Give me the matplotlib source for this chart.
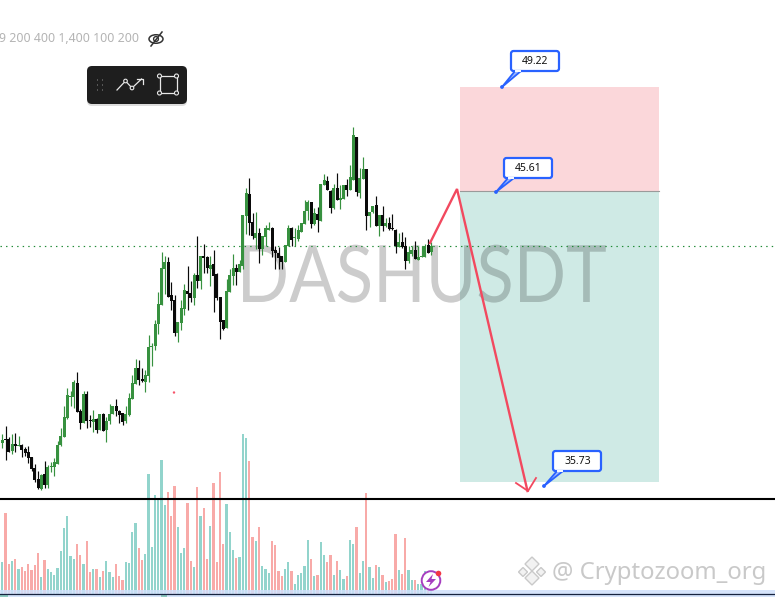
import numpy as np
import matplotlib
matplotlib.use("Agg")
import matplotlib.pyplot as plt
import matplotlib.patheffects as pe
from matplotlib.transforms import Affine2D
from matplotlib.patches import FancyBboxPatch, Rectangle, Polygon, Circle, Ellipse

# candle rows, in chart-pane position units: colour, body top, body bottom, wick top, wick bottom
C = """g 440 443 434 448
k 439 440 426 460
k 439 452 437 452
g 444 451 434 454
k 444 446 433 452
g 445 446 436 446
k 445 450 444 457
k 449 453 447 456
k 452 458 446 463
k 457 469 457 471
k 468 480 464 482
k 479 488 471 489
g 475 489 474 490
k 474 485 461 488
g 467 485 465 488
g 466 467 462 472
g 462 467 458 476
g 445 464 441 464
g 436 445 428 446
g 417 437 406 437
g 395 418 388 419
g 396 397 391 406
g 382 397 380 408
k 383 412 372 412
k 411 423 409 429
g 394 423 391 423
k 394 421 391 428
k 420 421 415 427
g 419 422 410 432
k 419 430 418 433
g 414 430 414 430
k 414 431 413 431
g 421 430 417 442
g 414 421 404 424
g 406 414 406 414
k 406 411 399 416
k 411 415 410 423
k 413 422 413 425
g 414 421 406 423
g 398 415 393 416
g 383 399 375 399
g 368 384 359 384
k 368 380 360 385
k 379 381 368 382
g 375 382 370 392
g 347 376 335 382
g 346 347 343 366
g 324 346 320 350
g 304 324 292 334
g 268 305 252 305
g 262 269 256 294
k 262 297 257 297
k 295 301 282 310
k 300 333 295 336
g 322 333 322 342
g 308 323 300 330
g 290 309 284 315
k 291 294 266 310
k 293 298 281 302
g 275 298 273 305
k 275 281 236 288
g 256 281 256 289
k 256 258 244 273
k 257 268 256 273
g 265 269 256 286
k 264 276 250 312
k 274 298 273 300
k 297 322 297 339
k 320 329 320 330
g 291 328 279 328
g 275 292 269 292
g 268 276 254 285
k 268 272 264 285
g 264 272 260 272
g 215 266 215 269
g 193 216 188 234
k 194 223 178 235
k 222 236 213 239
g 233 238 212 249
k 233 249 228 263
g 236 249 236 255
g 228 237 225 246
g 228 230 222 230
k 228 251 227 257
k 250 253 246 269
k 253 258 247 269
k 256 262 256 269
g 245 262 245 262
g 228 246 225 246
k 228 240 227 246
g 237 238 228 246
g 230 239 225 241
g 223 232 223 232
g 211 224 200 224
g 202 211 200 220
k 202 224 202 228
g 213 224 208 225
k 214 220 207 232
g 184 221 184 221
g 180 185 174 185
k 181 190 176 190
k 191 208 190 213
g 188 208 184 209
k 188 200 173 200
g 198 200 185 209
g 185 199 185 199
k 185 190 179 196
g 177 190 165 190
g 135 180 127 180
k 137 192 137 196
g 178 193 168 198
g 169 179 157 179
k 169 216 169 230
g 212 216 212 227
g 206 212 206 213
k 205 226 196 226
g 215 226 215 236
k 215 226 206 231
g 223 226 218 227
k 223 229 217 230
k 228 229 214 230
k 230 246 229 253
g 242 247 233 247
k 242 247 232 248
k 246 261 237 269
g 252 261 246 263
g 250 254 246 256
k 250 259 241 259
g 257 260 246 260
g 256 257 246 257
g 246 257 244 257
k 245 253 239 253
g 246 252 242 255"""
rows = [r.split() for r in C.splitlines()]
colors_key = [r[0] for r in rows]
body_top = np.array([float(r[1]) for r in rows])
body_bot = np.array([float(r[2]) for r in rows])
wick_top = np.array([float(r[3]) for r in rows])
wick_bot = np.array([float(r[4]) for r in rows])

# volume bar tops (thirds of a pane unit below its top)
vol_read = [396,249,402,393,387,417,411,423,402,420,405,369,441,390,417,426,435,414,363,294,258,378,387,342,375,402,333,426,417,417,441,423,393,426,441,402,438,450,396,399,306,279,354,390,372,132,351,195,204,90,225,186,258,168,291,369,354,219,393,411,171,258,234,387,288,159,396,126,342,222,306,
            360,384,381,12,24,93,321,333,291,408,417,429,333,345,423,438,417,396,423,462,435,429,408,330,387,438,435,336,375,396,375,435,393,420,447,438,330,342,291,429,393,189,411,444,405,411,435,456,453,447,312,420,432,324,420,450,450,462,462,423,470,475]
vol_pink = {1,2,4,6,7,8,9,10,11,13,23,24,26,27,29,31,35,36,37,42,43,51,52,53,57,58,60,62,63,65,66,67,68,
            72,76,77,79,83,84,85,86,89,95,97,100,101,103,106,109,112,115,117,119,120,121,123,124,127,131}

TRADE_LABELS = ["49.22", "45.61", "35.73"]
HEADER = "9 200 400 1,400 100 200"
SYMBOL = "DASHUSDT"
WATERMARK = "@ Cryptozoom_org"

n = len(rows)
xs = 2.3 + 3.25 * np.arange(n)
vol_top = 430 + np.array(vol_read) / 3

fig = plt.figure(figsize=(7.75, 5.97), dpi=100, facecolor="white")
ax = fig.add_axes([0, 0, 1, 1])
ax.set_xlim(0, 775)
ax.set_ylim(597, 0)
ax.axis("off")

# trade zones
ax.add_patch(Rectangle((460, 87), 199, 104, fc="#fbd7da", ec="none", zorder=1))
ax.add_patch(Rectangle((460, 191), 199, 291, fc="#cfeae5", ec="none", zorder=1))
ax.plot([460, 659], [191, 191], color="#9a9a9a", lw=0.8, zorder=1.2)


class Squeeze(pe.AbstractPathEffect):
    """Narrow the drawn glyphs horizontally about a display x position."""
    def __init__(self, sx, x0):
        super().__init__()
        self.sx, self.x0 = sx, x0

    def draw_path(self, renderer, gc, tpath, affine, rgbFace=None):
        aff = affine + Affine2D().translate(-self.x0, 0).scale(self.sx, 1).translate(self.x0, 0)
        renderer.draw_path(gc, tpath, aff, rgbFace)


# symbol watermark
t = ax.text(421.5, 302, SYMBOL, fontsize=57, family="Lato", color="black", alpha=0.2,
            ha="center", va="baseline", zorder=2)
t.set_path_effects([Squeeze(0.87, 421.5)])

# last price dotted line
ax.plot([0, 775], [246, 246], color="#1f8a35", lw=0.85, dashes=(1.2, 3.5), zorder=2.5)

# candles
GREEN, BLACK = "#37913f", "#0a0a0a"
ccol = [GREEN if k == "g" else BLACK for k in colors_key]
ax.vlines(xs, wick_top, wick_bot, colors=ccol, lw=0.85, zorder=3)
ax.bar(xs, body_bot - body_top, bottom=body_top, width=3.0, color=ccol, lw=0, zorder=3.1)

# volume
vcol = ["#f8aaa8" if i in vol_pink else "#92d4cc" for i in range(n)]
ax.bar(xs, 594 - vol_top, bottom=vol_top, width=2.2, color=vcol, lw=0, zorder=2.6)

# pane divider
ax.plot([0, 775], [499, 499], color="black", lw=1.5, zorder=6, solid_capstyle="butt")

# bottom strip
ax.add_patch(Rectangle((0, 590), 775, 7, fc="#cfe0fb", ec="none", alpha=0.85, zorder=4))
ax.add_patch(Rectangle((0, 594), 8, 3, fc="#8cc9c0", ec="none", zorder=4.1))
ax.add_patch(Rectangle((161, 594), 6, 3, fc="#8cc9c0", ec="none", zorder=4.1))
ax.plot([0, 775], [593.6, 593.6], color="#16233f", lw=0.9, zorder=4.2)

# projected path
RED = "#f2495f"
ax.plot([430, 457, 527.5], [243, 189, 491], color=RED, lw=1.7, zorder=5, solid_joinstyle="miter")
ax.plot([516, 528, 536], [483, 491, 478], color=RED, lw=1.3, zorder=5)

# callouts
BLUE = "#2962ff"
def callout(label, bx, by, px, py):
    w, h = 48, 20
    ax.add_patch(FancyBboxPatch((bx + 2, by + 2), w - 4, h - 4, boxstyle="round,pad=2,rounding_size=2.5",
                                fc="white", ec=BLUE, lw=1.6, zorder=7))
    ax.add_patch(Polygon([[px, py], [bx + 4, by + h], [bx + 10, by + h]], closed=True,
                         fc="#9db8ff", ec=BLUE, lw=1.3, zorder=7.1, joinstyle="round"))
    ax.plot([bx + 5, bx + 9], [by + h, by + h], color="white", lw=1.4, zorder=7.2)
    ax.add_patch(Circle((px, py), 1.9, fc=BLUE, ec="none", zorder=7.3))
    ax.text(bx + w / 2 + 0.5, by + h / 2 + 0.2, label, fontsize=7.5, family="Noto Sans", ha="center",
            va="center", color="#111111", zorder=7.4)
callout(TRADE_LABELS[0], 511, 51, 502, 87)
callout(TRADE_LABELS[1], 504, 158, 496, 192)
callout(TRADE_LABELS[2], 553, 451, 544, 486)

# header text and eye icon
ax.text(-1, 39, HEADER, fontsize=8.9, family="Noto Sans", color="#b4b4b4", ha="left", va="center")
ax.add_patch(Ellipse((156, 39), 14, 8.5, fc="none", ec="#333333", lw=1.1))
ax.add_patch(Circle((156, 39), 2.4, fc="none", ec="#333333", lw=1))
ax.plot([151, 162], [46, 32], color="#333333", lw=1.1)

# drawing toolbar
ax.add_patch(FancyBboxPatch((87, 68), 100, 38, boxstyle="round,pad=0,rounding_size=5", fc="#00000022", ec="none", zorder=8))
ax.add_patch(FancyBboxPatch((91, 70), 92, 30, boxstyle="round,pad=4,rounding_size=5", fc="#1e1e1e", ec="none", zorder=8.1))
for dx in (96.5, 101.5):
    for dy in (80, 85, 90):
        ax.add_patch(Rectangle((dx, dy - 0.6), 1.2, 1.2, fc="#565656", ec="none", zorder=8.2))
ax.plot([117, 125.5, 132, 141.5], [90, 81, 88, 79], color="#e8e8e8", lw=0.9, zorder=8.2)
ax.plot([136.5, 143, 143], [78.5, 78.5, 84], color="#e8e8e8", lw=0.9, zorder=8.2)
for cx, cy in ((125.5, 81), (132, 88)):
    ax.add_patch(Circle((cx, cy), 1.8, fc="#1e1e1e", ec="#e8e8e8", lw=0.8, zorder=8.3))
ax.add_patch(Rectangle((159.5, 76), 17, 17, fc="none", ec="#e8e8e8", lw=0.9, zorder=8.2))
for cx, cy in ((159.5, 76), (176.5, 76), (159.5, 93), (176.5, 93)):
    ax.add_patch(Circle((cx, cy), 2, fc="#1e1e1e", ec="#e8e8e8", lw=0.8, zorder=8.3))

# small marks
ax.add_patch(Circle((174, 392.5), 1.2, fc="#f6546a", ec="none", zorder=3))
ax.add_patch(Circle((431, 580.5), 9.3, fc="white", ec="#a63ec0", lw=1.4, zorder=9))
ax.add_patch(Polygon([[433, 574], [426, 582], [430.5, 582], [428.5, 587], [436, 579], [431.5, 579]],
                     fc="#a63ec0", ec="none", zorder=9.1))
ax.add_patch(Circle((438.5, 573.5), 2.8, fc="#f23645", ec="none", zorder=9.2))

# footer watermark
WM = "#c9c9c9"
ax.text(552, 573, WATERMARK, fontsize=17.2, family="Noto Sans", color=WM, ha="left", va="center", zorder=9.5)
for cx, cy, r in ((532, 564, 7), (523, 572, 4.5), (541, 572, 4.5), (532, 578, 7)):
    ax.add_patch(Polygon([[cx - r, cy], [cx, cy - r], [cx + r, cy], [cx, cy + r]], fc="#f2f2f2", ec=WM, lw=1, zorder=9.5))

fig.savefig("out.png", dpi=100, facecolor="white")
